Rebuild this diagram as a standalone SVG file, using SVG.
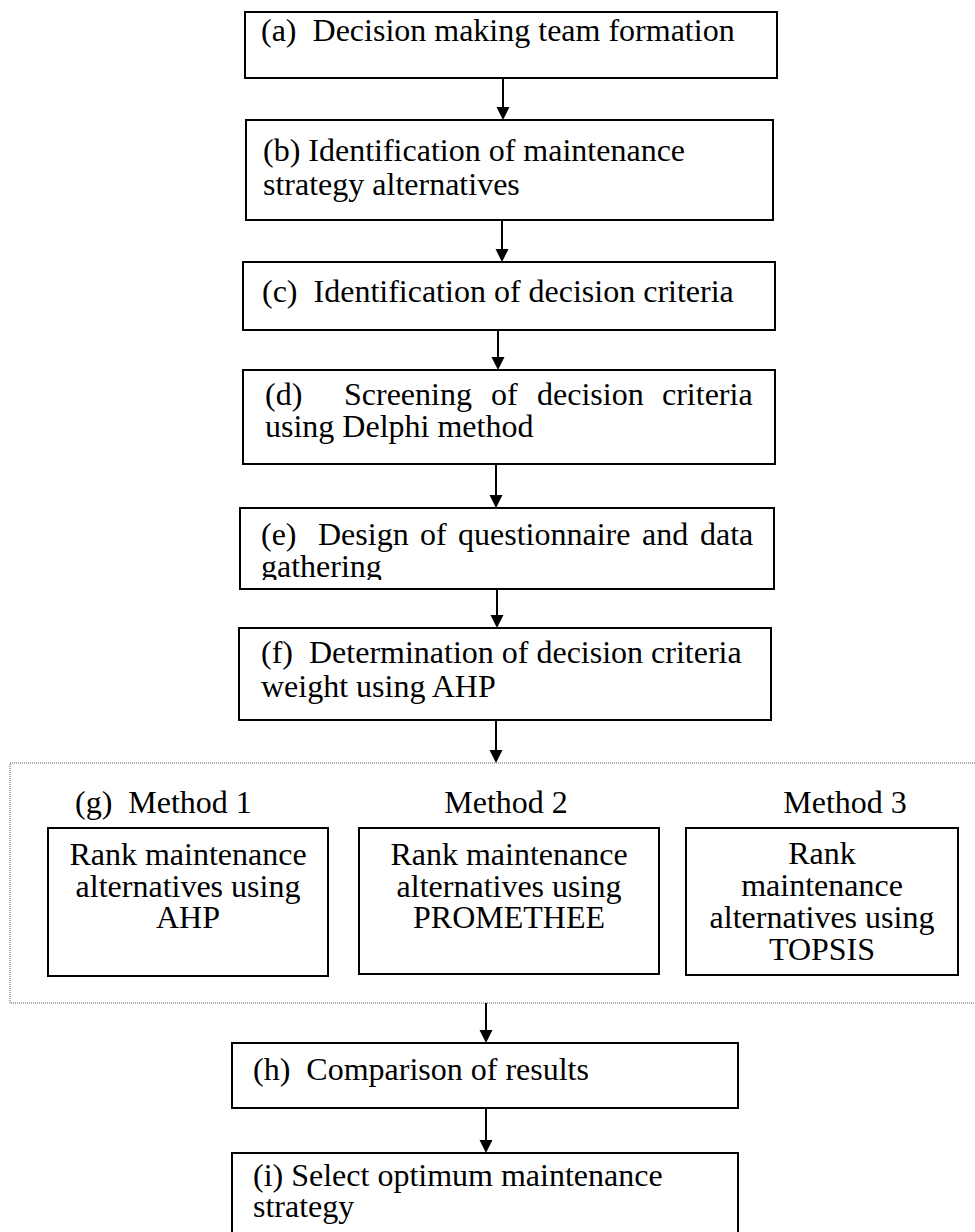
<svg xmlns="http://www.w3.org/2000/svg" width="975" height="1232" viewBox="0 0 975 1232">
<style>
.box{fill:#fff;stroke:#000;stroke-width:2}
.t{font-family:"Liberation Serif","Times New Roman",serif;font-size:32px;fill:#000;white-space:pre}
.c{text-anchor:middle}
.ln{stroke:#000;stroke-width:2;fill:none}
.dot{fill:none;stroke:#555;stroke-width:1;stroke-dasharray:1 1}
</style>
<defs>
<marker id="ah" markerWidth="13" markerHeight="13" refX="6.5" refY="13" orient="auto" markerUnits="userSpaceOnUse" viewBox="0 0 13 13">
<path d="M0,0 L13,0 L6.5,13 Z" fill="#000"/>
</marker>
<clipPath id="clipE"><rect x="240" y="508" width="534" height="72"/></clipPath>
</defs>
<rect width="975" height="1232" fill="#fff"/>

<g id="group-g">
<rect class="dot" x="10" y="763" width="990" height="240"/>
</g>

<g id="connectors">
<line class="ln" x1="503" y1="78" x2="503" y2="107" />
<path d="M496.5,107 L509.5,107 L503,120 Z"/>
<line class="ln" x1="502" y1="220" x2="502" y2="249"/>
<path d="M495.5,249 L508.5,249 L502,262 Z"/>
<line class="ln" x1="498" y1="330" x2="498" y2="357"/>
<path d="M491.5,357 L504.5,357 L498,370 Z"/>
<line class="ln" x1="496" y1="464" x2="496" y2="495"/>
<path d="M489.5,495 L502.5,495 L496,508 Z"/>
<line class="ln" x1="497" y1="589" x2="497" y2="615"/>
<path d="M490.5,615 L503.5,615 L497,628 Z"/>
<line class="ln" x1="496" y1="720" x2="496" y2="750"/>
<path d="M489.5,750 L502.5,750 L496,763 Z"/>
<line class="ln" x1="486" y1="1003" x2="486" y2="1030"/>
<path d="M479.5,1030 L492.5,1030 L486,1043 Z"/>
<line class="ln" x1="486" y1="1108" x2="486" y2="1140"/>
<path d="M479.5,1140 L492.5,1140 L486,1153 Z"/>
</g>

<g id="node-a">
<rect class="box" x="245" y="12" width="532" height="66"/>
<text class="t" x="261" y="41">(a)  Decision making team formation</text>
</g>

<g id="node-b">
<rect class="box" x="246" y="120" width="527" height="100"/>
<text class="t" x="263" y="161">(b) Identification of maintenance</text>
<text class="t" x="263" y="195">strategy alternatives</text>
</g>

<g id="node-c">
<rect class="box" x="243" y="262" width="532" height="68"/>
<text class="t" x="262" y="302">(c)  Identification of decision criteria</text>
</g>

<g id="node-d">
<rect class="box" x="243" y="370" width="532" height="94"/>
<text class="t" y="405"><tspan x="265">(d)</tspan><tspan x="344">Screening</tspan><tspan x="491">of</tspan><tspan x="537">decision</tspan><tspan x="662">criteria</tspan></text>
<text class="t" x="265" y="437">using Delphi method</text>
</g>

<g id="node-e">
<rect class="box" x="240" y="508" width="534" height="81"/>
<g clip-path="url(#clipE)">
<text class="t" y="545"><tspan x="261">(e)</tspan><tspan x="318">Design</tspan><tspan x="420">of</tspan><tspan x="458">questionnaire</tspan><tspan x="642">and</tspan><tspan x="700">data</tspan></text>
<text class="t" x="261" y="577">gathering</text>
</g>
</g>

<g id="node-f">
<rect class="box" x="239" y="628" width="532" height="92"/>
<text class="t" x="261" y="663">(f)  Determination of decision criteria</text>
<text class="t" x="261" y="697">weight using AHP</text>
</g>

<g id="labels-g">
<text class="t" x="75" y="813">(g)  Method 1</text>
<text class="t c" x="506" y="813">Method 2</text>
<text class="t c" x="845" y="813">Method 3</text>
</g>

<g id="node-g1">
<rect class="box" x="48" y="828" width="280" height="148"/>
<text class="t c" x="188" y="865">Rank maintenance</text>
<text class="t c" x="188" y="897">alternatives using</text>
<text class="t c" x="188" y="928">AHP</text>
</g>

<g id="node-g2">
<rect class="box" x="359" y="828" width="300" height="146"/>
<text class="t c" x="509" y="865">Rank maintenance</text>
<text class="t c" x="509" y="897">alternatives using</text>
<text class="t c" x="509" y="928">PROMETHEE</text>
</g>

<g id="node-g3">
<rect class="box" x="686" y="828" width="272" height="147"/>
<text class="t c" x="822" y="864">Rank</text>
<text class="t c" x="822" y="896">maintenance</text>
<text class="t c" x="822" y="928">alternatives using</text>
<text class="t c" x="822" y="960">TOPSIS</text>
</g>

<g id="node-h">
<rect class="box" x="232" y="1043" width="506" height="65"/>
<text class="t" x="253" y="1080">(h)  Comparison of results</text>
</g>

<g id="node-i">
<rect class="box" x="232" y="1153" width="506" height="100"/>
<text class="t" x="253" y="1186">(i) Select optimum maintenance</text>
<text class="t" x="253" y="1217">strategy</text>
</g>
</svg>
